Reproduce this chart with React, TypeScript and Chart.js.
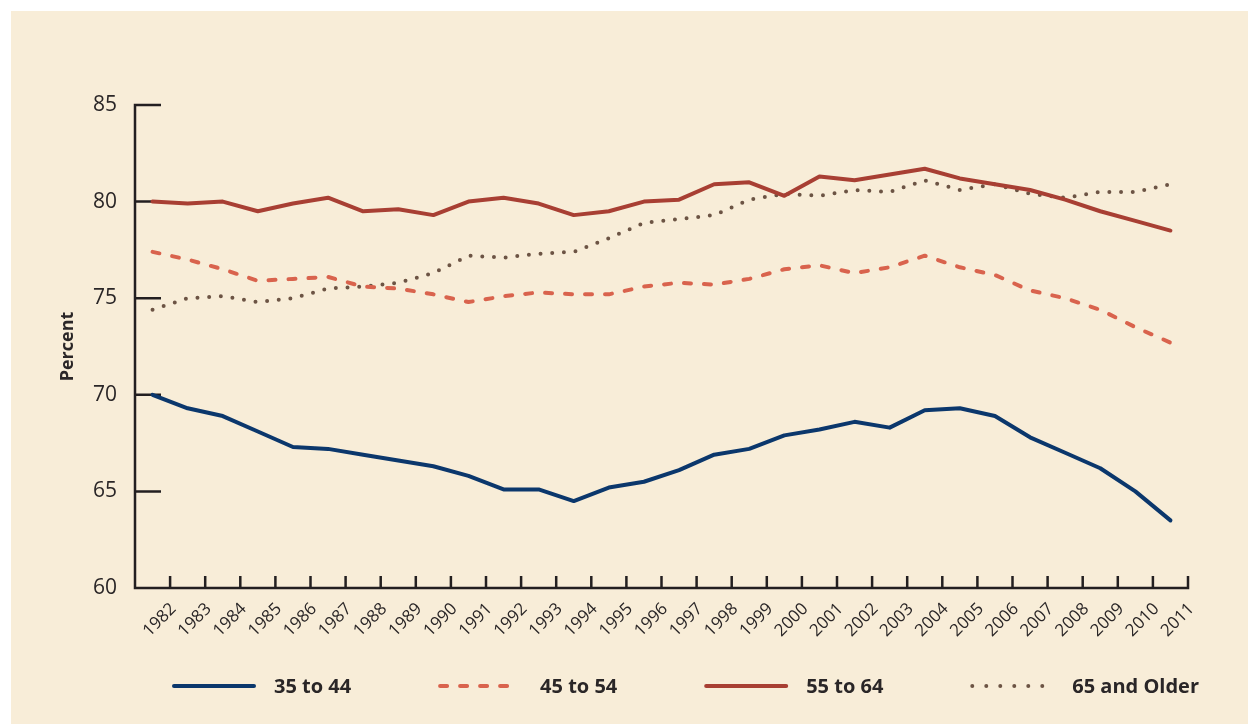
import React, { useEffect, useRef } from "react";
import { Chart, registerables } from "chart.js";

Chart.register(...registerables);

const years = ["1982","1983","1984","1985","1986","1987","1988","1989","1990","1991","1992","1993","1994","1995","1996","1997","1998","1999","2000","2001","2002","2003","2004","2005","2006","2007","2008","2009","2010","2011"];

const age35to44 = [70.0, 69.3, 68.9, 68.1, 67.3, 67.2, 66.9, 66.6, 66.3, 65.8, 65.1, 65.1, 64.5, 65.2, 65.5, 66.1, 66.9, 67.2, 67.9, 68.2, 68.6, 68.3, 69.2, 69.3, 68.9, 67.8, 67.0, 66.2, 65.0, 63.5];
const age45to54 = [77.4, 77.0, 76.5, 75.9, 76.0, 76.1, 75.6, 75.5, 75.2, 74.8, 75.1, 75.3, 75.2, 75.2, 75.6, 75.8, 75.7, 76.0, 76.5, 76.7, 76.3, 76.6, 77.2, 76.6, 76.2, 75.4, 75.0, 74.4, 73.5, 72.7];
const age55to64 = [80.0, 79.9, 80.0, 79.5, 79.9, 80.2, 79.5, 79.6, 79.3, 80.0, 80.2, 79.9, 79.3, 79.5, 80.0, 80.1, 80.9, 81.0, 80.3, 81.3, 81.1, 81.4, 81.7, 81.2, 80.9, 80.6, 80.1, 79.5, 79.0, 78.5];
const age65plus = [74.4, 75.0, 75.1, 74.8, 75.0, 75.5, 75.6, 75.8, 76.3, 77.2, 77.1, 77.3, 77.4, 78.1, 78.9, 79.1, 79.3, 80.1, 80.4, 80.3, 80.6, 80.5, 81.1, 80.6, 80.9, 80.4, 80.2, 80.5, 80.5, 80.9];

const seriesLabels = ["35 to 44", "45 to 54", "55 to 64", "65 and Older"];
const yTickValues = [60, 65, 70, 75, 80, 85];

const AXIS_COLOR = "#231F20";
const TEXT_COLOR = "#2A2627";
const BG = "#F8EDD8";
const FONT = '"Open Sans", "DejaVu Sans", sans-serif';

const decorPlugin = {
  id: "decor",
  beforeDatasetsDraw(chart: any) {
    const { ctx, chartArea, scales } = chart;
    const { left, right, top, bottom } = chartArea;
    const x = scales.x;
    const y = scales.y;
    ctx.save();
    ctx.strokeStyle = AXIS_COLOR;
    ctx.lineWidth = 2.5;
    ctx.lineCap = "butt";
    ctx.lineJoin = "miter";
    ctx.beginPath();
    ctx.moveTo(left + 26, top);
    ctx.lineTo(left, top);
    ctx.lineTo(left, bottom);
    ctx.lineTo(right, bottom);
    ctx.lineTo(right, bottom - 12);
    ctx.stroke();
    ctx.beginPath();
    y.ticks.forEach((t: any) => {
      const py = y.getPixelForValue(t.value);
      if (py > top + 1 && py < bottom - 1) {
        ctx.moveTo(left, py);
        ctx.lineTo(left + 26, py);
      }
    });
    const n = x.ticks.length;
    const half = (x.getPixelForTick(1) - x.getPixelForTick(0)) / 2;
    for (let i = 0; i < n - 1; i++) {
      const px = x.getPixelForTick(i) + half;
      ctx.moveTo(px, bottom);
      ctx.lineTo(px, bottom - 12);
    }
    ctx.stroke();
    ctx.restore();
  },
  afterDraw(chart: any) {
    const { ctx, chartArea } = chart;
    const datasets = chart.data.datasets;
    ctx.save();
    ctx.font = 'bold 20px ' + FONT;
    const lineLen = 80;
    const textGap = 20;
    const widths = datasets.map((d: any) => lineLen + textGap + ctx.measureText(d.label).width);
    const startX = chartArea.left + 39;
    const endX = chartArea.right + 11;
    const total = widths.reduce((a: number, b: number) => a + b, 0);
    const gap = (endX - startX - total) / (datasets.length - 1);
    const cy = 675;
    let cx = startX;
    datasets.forEach((d: any, i: number) => {
      ctx.strokeStyle = d.borderColor;
      ctx.lineWidth = d.borderWidth;
      ctx.lineCap = "round";
      ctx.setLineDash(d.legendDash || d.borderDash || []);
      ctx.beginPath();
      ctx.moveTo(cx, cy);
      ctx.lineTo(cx + lineLen, cy);
      ctx.stroke();
      ctx.setLineDash([]);
      ctx.fillStyle = TEXT_COLOR;
      ctx.textBaseline = "middle";
      ctx.textAlign = "left";
      ctx.fillText(d.label, cx + lineLen + textGap, cy + 1);
      cx += widths[i] + gap;
    });
    ctx.restore();
  },
};

export default function App() {
  const canvasRef = useRef<HTMLCanvasElement | null>(null);

  useEffect(() => {
    if (!canvasRef.current) return;
    const chart = new Chart(canvasRef.current, {
      type: "line",
      data: {
        labels: years,
        datasets: [
          {
            label: seriesLabels[0],
            data: age35to44,
            borderColor: "#0B376C",
            borderWidth: 4,
            pointRadius: 0,
            tension: 0,
            borderCapStyle: "round",
            borderJoinStyle: "round",
          },
          {
            label: seriesLabels[1],
            data: age45to54,
            borderColor: "#D9634D",
            borderWidth: 4,
            borderDash: [7, 13],
            pointRadius: 0,
            tension: 0,
            borderCapStyle: "round",
            borderJoinStyle: "round",
          },
          {
            label: seriesLabels[2],
            data: age55to64,
            borderColor: "#A83F33",
            borderWidth: 4,
            pointRadius: 0,
            tension: 0,
            borderCapStyle: "round",
            borderJoinStyle: "round",
          },
          {
            label: seriesLabels[3],
            data: age65plus,
            borderColor: "#6C5444",
            borderWidth: 4,
            borderDash: [0, 11.7],
            legendDash: [0, 14],
            pointRadius: 0,
            tension: 0,
            borderCapStyle: "round",
            borderJoinStyle: "round",
          },
        ],
      },
      options: {
        responsive: false,
        animation: false,
        devicePixelRatio: 1,
        layout: { padding: { top: 94, right: 60, bottom: 76, left: 0 } },
        plugins: {
          legend: { display: false },
          tooltip: { enabled: false },
        },
        scales: {
          x: {
            type: "category",
            offset: true,
            grid: { display: false, drawTicks: false, offset: true },
            border: { display: false },
            ticks: {
              autoSkip: false,
              minRotation: 45,
              maxRotation: 45,
              padding: 11,
              labelOffset: 21,
              color: TEXT_COLOR,
              font: { family: FONT, size: 17 },
            },
            afterFit: (scale: any) => {
              scale.height = 60;
            },
          },
          y: {
            min: 60,
            max: 85,
            afterBuildTicks: (scale: any) => {
              scale.ticks = yTickValues.map((v) => ({ value: v }));
            },
            grid: { display: false, drawTicks: false },
            border: { display: false },
            ticks: {
              padding: 18,
              color: TEXT_COLOR,
              font: { family: FONT, size: 21 },
            },
            title: {
              display: true,
              text: "Percent",
              color: TEXT_COLOR,
              font: { family: FONT, size: 18, weight: "bold" },
              padding: { top: 46, bottom: 0 },
            },
            afterFit: (scale: any) => {
              scale.width = 124;
            },
          },
        },
      },
      plugins: [decorPlugin],
    } as any);
    return () => chart.destroy();
  }, []);

  return (
    <div style={{ position: "absolute", left: 0, top: 0, width: 1248, height: 724, background: "#ffffff", overflow: "hidden" }}>
      <div style={{ position: "absolute", left: 11, top: 11, width: 1237, height: 713, background: BG }}>
        <canvas ref={canvasRef} width={1237} height={713} style={{ width: 1237, height: 713, display: "block" }} />
      </div>
    </div>
  );
}
